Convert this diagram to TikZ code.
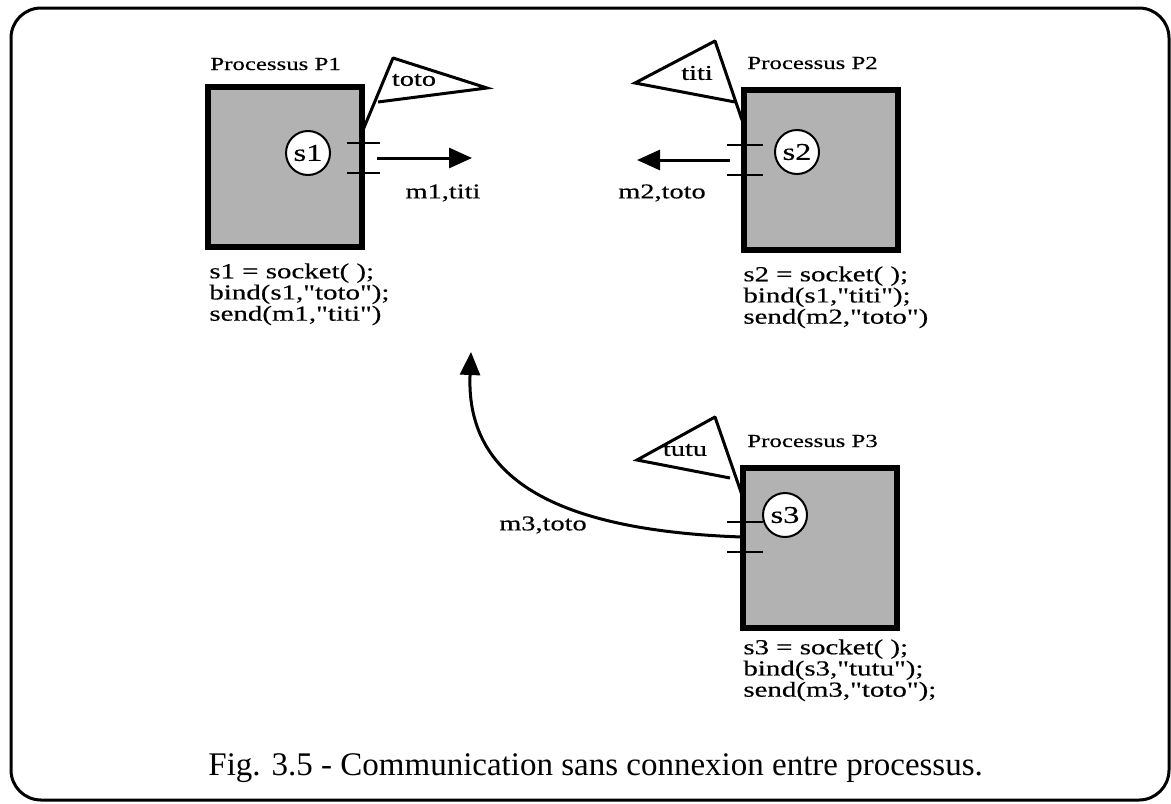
\documentclass[tikz,border=0pt]{standalone}
\usepackage{fontspec}
\setmainfont{Liberation Serif}
\newfontfamily\nyfont[FakeStretch=1.35,FakeBold=0.4]{Liberation Serif}
\usetikzlibrary{arrows.meta}

\tikzset{
  procbox/.style={draw, line width=3pt, fill=black!30, minimum width=77pt, minimum height=80pt, inner sep=0pt},
  sockcirc/.style={circle, draw, line width=1pt, fill=white, minimum size=22pt, inner sep=0pt, font=\nyfont\fontsize{12}{12}\selectfont},
  titre/.style={font=\nyfont\fontsize{9.2}{10}\selectfont, anchor=base west, inner sep=0pt},
  code/.style={font=\nyfont\fontsize{10.7}{10.6}\selectfont, align=left, anchor=north west, inner sep=0pt},
  msg/.style={font=\nyfont\fontsize{10.5}{10.5}\selectfont, inner sep=0pt},
  flag/.style={draw, line width=1.5pt, fill=white},
  flagpole/.style={line width=1.5pt, line cap=round},
  tick/.style={line width=1pt},
  msgarrow/.style={line width=1.5pt, -{Triangle[length=11.5pt,width=10pt]}},
}

\begin{document}
\begin{tikzpicture}[x=0.5pt,y=-0.5pt]
	\useasboundingbox (0,0) rectangle (1171,803);
	% cadre
	\draw[line width=1.5pt, rounded corners=15pt] (11,8) rectangle (1169,800);
	% Processus P1
	\node[procbox] (P1) at (285,167) {};
	\node[titre] (t1) at (210,70) {Processus P1};
	\draw[flag] (393,58) -- (487,88) -- (378,102);
	\draw[flagpole] (363,130) -- (393,58);
	\node[msg] (f1) at (414,80) {toto};
	\draw[tick] (347,143) -- (380,143);
	\draw[tick] (347,173) -- (380,173);
	\node[sockcirc] (s1) at (308,153) {s1};
	\coordinate (a1) at (377,158);
	\coordinate (b1) at (472,158);
	\draw[msgarrow] (a1) -- (b1);
	\node[msg] (m1) at (443,193) {m1,titi};
	\node[code] (c1) at (209,263) {s1 = socket( );\\bind(s1,"toto");\\send(m1,"titi")};
	% Processus P2
	\node[procbox] (P2) at (821,170) {};
	\node[titre] (t2) at (747,69) {Processus P2};
	\draw[flag] (715,41) -- (635,83) -- (735,102);
	\draw[flagpole] (742,120) -- (715,41);
	\node[msg] (f2) at (697,73) {titi};
	\draw[tick] (727,145) -- (763,145);
	\draw[tick] (727,175) -- (763,175);
	\node[sockcirc] (s2) at (797,152) {s2};
	\coordinate (a2) at (730,160);
	\coordinate (b2) at (637,160);
	\draw[msgarrow] (a2) -- (b2);
	\node[msg] (m2) at (662,193) {m2,toto};
	\node[code] (c2) at (743,266) {s2 = socket( );\\bind(s1,"titi");\\send(m2,"toto")};
	% Processus P3
	\node[procbox] (P3) at (820,548) {};
	\node[titre] (t3) at (747,447) {Processus P3};
	\draw[flag] (715,417) -- (637,460) -- (730,478);
	\draw[flagpole] (742,495) -- (715,417);
	\node[msg] (f3) at (685,450) {tutu};
	\draw[tick] (727,522) -- (763,522);
	\draw[tick] (727,552) -- (763,552);
	\node[sockcirc] (s3) at (785,515) {s3};
	\coordinate (a3) at (742,537);
	\coordinate (b3) at (471,352);
	\draw[msgarrow] (a3) .. controls (540,530) and (466,470) .. (b3);
	\node[msg] (m3) at (543,525) {m3,toto};
	\node[code] (c3) at (743,639) {s3 = socket( );\\bind(s3,"tutu");\\send(m3,"toto");};
	% legende
	\node[font=\fontsize{16.5}{18}\selectfont, anchor=base west, inner sep=0pt] (leg) at (208,775) {Fig. 3.5 - Communication sans connexion entre processus.};
\end{tikzpicture}
\end{document}
